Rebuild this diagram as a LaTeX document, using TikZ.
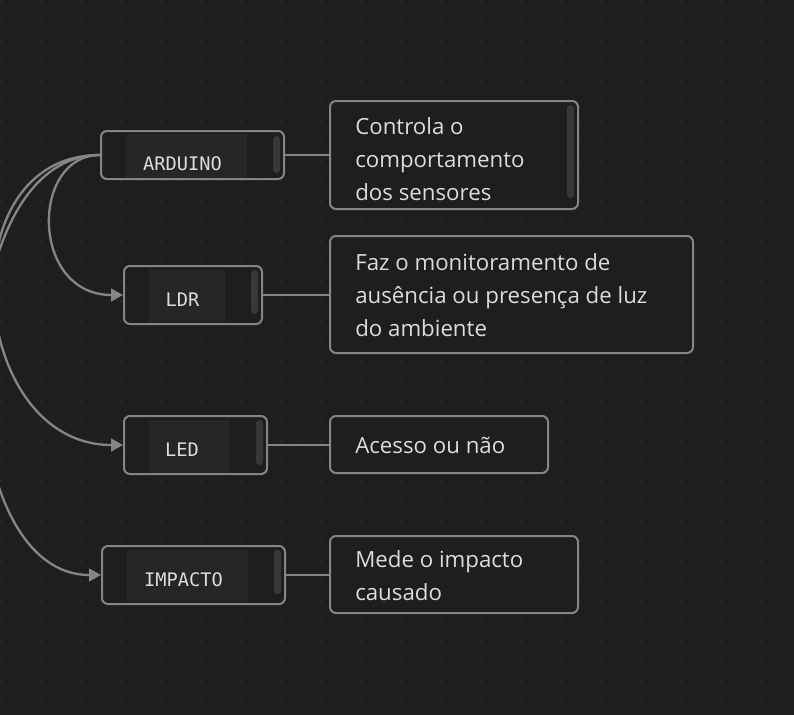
\documentclass[tikz,border=0pt]{standalone}
\usepackage{fontspec}
\setmainfont{Open Sans}
\newfontfamily\monofont{DejaVu Sans Mono}
\usetikzlibrary{arrows.meta}
\definecolor{bgc}{HTML}{1E1E1E}
\definecolor{dotc}{HTML}{343434}
\definecolor{edgec}{HTML}{858585}
\definecolor{innerc}{HTML}{262626}
\definecolor{barc}{HTML}{383838}
\definecolor{txtc}{HTML}{DCDCDC}
\tikzset{
  card/.style={draw=edgec, line width=1.5pt, fill=bgc, rounded corners=4.5pt, inner sep=0pt},
  lbl/.style={font=\monofont\fontsize{14pt}{16pt}\selectfont, text=txtc, inner sep=0pt, anchor=base},
  desc/.style={font=\fontsize{16.7pt}{20pt}\selectfont, text=txtc, inner sep=0pt, anchor=base west},
  link/.style={draw=edgec, line width=1.75pt},
  flow/.style={draw=edgec, line width=1.75pt, -{Triangle[length=9pt,width=9.5pt]}},
}
\begin{document}
\begin{tikzpicture}[x=0.75pt,y=-0.75pt]
\fill[bgc] (0,0) rectangle (794,715);
\useasboundingbox (0,0) rectangle (794,715);
\foreach \i in {0,...,39}{\foreach \j in {0,...,35}{
  \fill[dotc] (\i*20+1,\j*20+1) circle (0.8);}}
% device cards
\node[card, minimum width=137.25pt, minimum height=36pt] (ard) at (192.5,155) {};
\node[card, minimum width=103.5pt, minimum height=43.5pt] (ldr) at (193,295) {};
\node[card, minimum width=107.25pt, minimum height=43.5pt] (led) at (195.5,445) {};
\node[card, minimum width=137.25pt, minimum height=43.5pt] (imp) at (193.5,575) {};
% inner panels and scrollbars
\fill[innerc] (126,134) rectangle (247,178);
\fill[innerc] (149,270) rectangle (225,323);
\fill[innerc] (149,420) rectangle (230,473);
\fill[innerc] (127,550) rectangle (248,603);
\fill[barc, rounded corners=2.5pt] (273,136) rectangle (280,173);
\fill[barc, rounded corners=2.5pt] (251,270) rectangle (258,314);
\fill[barc, rounded corners=2.5pt] (256,420) rectangle (263,465);
\fill[barc, rounded corners=2.5pt] (274,550) rectangle (281,594);
\node[lbl] (tard) at (182.5,170) {ARDUINO};
\node[lbl] (tldr) at (182.5,306) {LDR};
\node[lbl] (tled) at (182,456) {LED};
\node[lbl] (timp) at (183.5,586) {IMPACTO};
% description cards
\node[card, minimum width=186pt, minimum height=81pt] (d1) at (454,155) {};
\node[card, minimum width=272.25pt, minimum height=87.75pt] (d2) at (511.5,294.5) {};
\node[card, minimum width=163.5pt, minimum height=42.75pt] (d3) at (439,444.5) {};
\node[card, minimum width=186pt, minimum height=57.75pt] (d4) at (454,574.5) {};
\fill[barc, rounded corners=2.5pt] (567,105) rectangle (574,198);
\node[desc] (d1a) at (355,134) {Controla o};
\node[desc] (d1b) at (355,167) {comportamento};
\node[desc] (d1c) at (355,200) {dos sensores};
\node[desc] (d2a) at (355,270) {Faz o monitoramento de};
\node[desc] (d2b) at (355,303) {ausência ou presença de luz};
\node[desc] (d2c) at (355,336) {do ambiente};
\node[desc] (d3a) at (355,453) {Acesso ou não};
\node[desc] (d4a) at (355,567) {Mede o impacto};
\node[desc] (d4b) at (355,600) {causado};
% straight links
\draw[link] (ard.east) -- (ard.east -| d1.west);
\draw[link] (ldr.east) -- (ldr.east -| d2.west);
\draw[link] (led.east) -- (led.east -| d3.west);
\draw[link] (imp.east) -- (imp.east -| d4.west);
% curved flows
\coordinate (src) at (ard.west);
\draw[flow] (src) .. controls (30,155) and (30,295) .. (ldr.west);
\draw[flow] (src) .. controls (-55,155) and (-32,445) .. (led.west);
\draw[flow] (src) .. controls (-57,155) and (-56,575) .. (imp.west);
\end{tikzpicture}
\end{document}
